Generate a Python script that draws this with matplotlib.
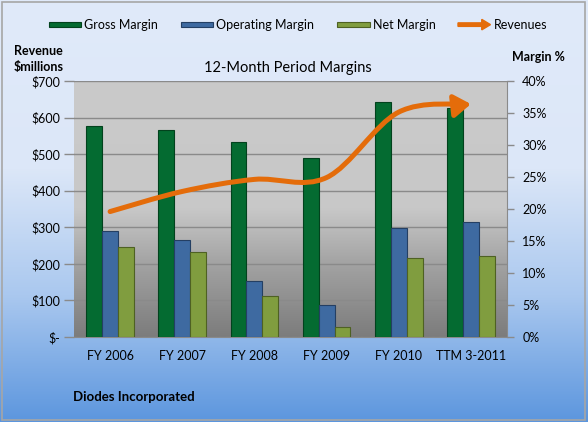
import numpy as np
import matplotlib
matplotlib.use("Agg")
import matplotlib.pyplot as plt
from matplotlib.patches import FancyArrowPatch, Rectangle, Patch, FancyArrow
from matplotlib.path import Path
from matplotlib.legend_handler import HandlerPatch
from matplotlib.colors import to_rgb

plt.rcParams['font.family'] = ['Lato', 'DejaVu Sans']

# data
categories = ["FY 2006", "FY 2007", "FY 2008", "FY 2009", "FY 2010", "TTM 3-2011"]
gross_margin = [33.0, 32.4, 30.5, 27.9, 36.7, 35.8]      # %
operating_margin = [16.6, 15.2, 8.7, 5.0, 17.1, 17.9]   # %
net_margin = [14.0, 13.3, 6.4, 1.5, 12.4, 12.7]         # %
revenues = [343, 398, 431, 436, 615, 637]               # $ millions

rev_ticks = [0, 100, 200, 300, 400, 500, 600, 700]
pct_ticks = [0, 5, 10, 15, 20, 25, 30, 35, 40]

c_gross, e_gross = "#046B31", "#02421D"
c_oper, e_oper = "#3E6AA1", "#243F63"
c_net, e_net = "#809D3F", "#4E6123"
c_rev = "#E46C0A"


def gradient(stops, n=256):
    # stops: list of (fraction from top, colour)
    fr = np.linspace(0, 1, n)
    pos = [s[0] for s in stops]
    cols = np.array([to_rgb(s[1]) for s in stops])
    img = np.stack([np.interp(fr, pos, cols[:, k]) for k in range(3)], axis=-1)
    return img[:, None, :]


fig = plt.figure(figsize=(5.88, 4.22), dpi=100)

# chart background
bg = fig.add_axes([0, 0, 1, 1], zorder=-10)
bg.axis('off')
bg.imshow(gradient([(0, "#E0EAFA"), (0.40, "#DCE7F8"), (0.70, "#AAC8EF"), (1.0, "#5C96DE")]),
          extent=[0, 1, 0, 1], aspect='auto')
bg.set_xlim(0, 1)
bg.set_ylim(0, 1)
fig.patches.append(Rectangle((0.003, 0.005), 0.992, 0.99, transform=fig.transFigure,
                             fill=False, edgecolor="#A6A6A6", lw=1.2))

ax = fig.add_axes([74 / 588, 1 - 337 / 422, 433 / 588, 256 / 422])
ax.imshow(gradient([(0, "#CACACA"), (0.50, "#C8C8C8"), (0.72, "#A2A2A2"), (1.0, "#7C7C7C")]),
          extent=[0, 1, 0, 1], transform=ax.transAxes, aspect='auto', zorder=0)
ax.set_axisbelow(True)
ax.grid(axis='y', color="#8A8A8A", lw=1)
ax.set_xlim(-0.5, len(categories) - 0.5)
ax.set_ylim(0, 700)
ax.set_yticks(rev_ticks)
ax.set_yticklabels(["$-" if v == 0 else "$%d" % v for v in rev_ticks], fontsize=9)
ax.set_xticks(range(len(categories)))
ax.set_xticklabels(categories, fontsize=9)
ax.tick_params(axis='x', length=0, pad=9)
ax.tick_params(axis='y', length=7, width=1, color="#8A8A8A", pad=3)
for s in ['top', 'left', 'right']:
    ax.spines[s].set_visible(False)
ax.spines['bottom'].set_color("#8A8A8A")

ax2 = ax.twinx()
ax2.set_ylim(0, 40)
ax2.set_yticks(pct_ticks)
ax2.set_yticklabels(["%d%%" % v for v in pct_ticks], fontsize=9)
ax2.tick_params(axis='y', length=5, width=1, color="#8A8A8A", pad=6)
for s in ['top', 'left', 'bottom']:
    ax2.spines[s].set_visible(False)
ax2.spines['right'].set_color("#8A8A8A")

x = np.arange(len(categories))
w = 0.22
ax2.bar(x - w, gross_margin, w, color=c_gross, edgecolor=e_gross, lw=0.8, zorder=2)
ax2.bar(x, operating_margin, w, color=c_oper, edgecolor=e_oper, lw=0.8, zorder=2)
ax2.bar(x + w, net_margin, w, color=c_net, edgecolor=e_net, lw=0.8, zorder=2)

# smoothed revenue line (bezier through the points) with arrow head
pts = np.column_stack([x, revenues]).astype(float)
n = len(pts)
verts = [tuple(pts[0])]
codes = [Path.MOVETO]
for i in range(n - 1):
    p0 = pts[max(i - 1, 0)]
    p3 = pts[min(i + 2, n - 1)]
    c1 = pts[i] + (pts[i + 1] - p0) / 6
    c2 = pts[i + 1] - (p3 - pts[i]) / 6
    verts += [tuple(c1), tuple(c2), tuple(pts[i + 1])]
    codes += [Path.CURVE4] * 3
arrow = FancyArrowPatch(path=Path(verts, codes), arrowstyle="-|>,head_length=0.5,head_width=0.34",
                        mutation_scale=20, color=c_rev, lw=3.6, shrinkA=0, shrinkB=0,
                        capstyle='round', transform=ax.transData, zorder=5)
ax2.add_patch(arrow)
ax2.set_xlim(-0.5, len(categories) - 0.5)
ax2.set_ylim(0, 40)

fig.text(288 / 588, 1 - 68 / 422, "12-Month Period Margins", fontsize=10.5, ha='center', va='center')
fig.text(14 / 588, 1 - 51 / 422, "Revenue", fontsize=9, fontweight='bold', va='center')
fig.text(14 / 588, 1 - 67 / 422, "$millions", fontsize=9, fontweight='bold', va='center')
fig.text(512 / 588, 1 - 57 / 422, "Margin %", fontsize=9, fontweight='bold', va='center')
fig.text(73 / 588, 1 - 397 / 422, "Diodes Incorporated", fontsize=9.5, fontweight='bold', va='center')


# legend
def bar_handle(legend, orig_handle, xdescent, ydescent, width, height, fontsize):
    return Rectangle((-xdescent, height * 0.2 - ydescent), width, height * 0.6)


def arrow_handle(legend, orig_handle, xdescent, ydescent, width, height, fontsize):
    return FancyArrow(-xdescent, height / 2 - ydescent, width, 0, width=height * 0.4,
                      head_width=height * 1.2, head_length=height * 1.0, length_includes_head=True)


h_gross = Patch(facecolor=c_gross, edgecolor=e_gross, lw=0.8)
h_oper = Patch(facecolor=c_oper, edgecolor=e_oper, lw=0.8)
h_net = Patch(facecolor=c_net, edgecolor=e_net, lw=0.8)
h_rev = Patch(facecolor=c_rev, edgecolor=c_rev)
fig.legend([h_gross, h_oper, h_net, h_rev],
           ["Gross Margin", "Operating Margin", "Net Margin", "Revenues"],
           handler_map={h_gross: HandlerPatch(patch_func=bar_handle),
                        h_oper: HandlerPatch(patch_func=bar_handle),
                        h_net: HandlerPatch(patch_func=bar_handle),
                        h_rev: HandlerPatch(patch_func=arrow_handle)},
           loc='center', bbox_to_anchor=(298 / 588, 1 - 25 / 422), ncol=4, frameon=False,
           fontsize=9, handlelength=2.6, handletextpad=0.25, columnspacing=1.8)

fig.savefig("out.png", dpi=100)
